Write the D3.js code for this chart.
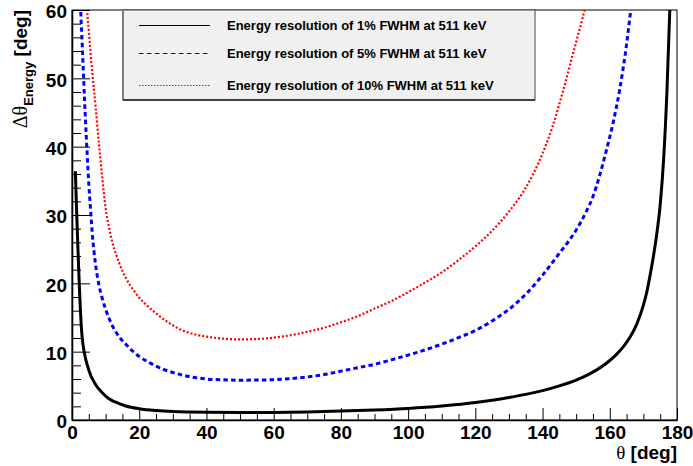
<!DOCTYPE html>
<html>
<head>
<meta charset="utf-8">
<script src="https://cdn.jsdelivr.net/npm/d3@7"></script>
<style>
  html, body { margin: 0; padding: 0; background: #fff; }
  svg { display: block; }
</style>
</head>
<body>
<svg id="chart" width="693" height="466"></svg>
<script>
// ---- data ----
const thetaBlack = [1,3,5,7,9,11,13,16,20,25,30,35,40,50,60,70,80,90,100,110,120,125,130,135,140,145,150,153,156,159,162,164,166,168,170,171,172,173,174,175,176,177,178];
const res1 = [36.4,12.2,7.3,5.2,4.0,3.1,2.6,2.05,1.65,1.38,1.23,1.16,1.12,1.09,1.11,1.18,1.3,1.47,1.7,2.05,2.55,2.9,3.3,3.75,4.3,5.0,5.85,6.5,7.3,8.3,9.6,10.7,12.1,14.0,16.8,18.7,21.2,24,27.3,31.5,38,48,62];

const thetaBlue = [2,2.5,3,3.5,4,4.5,5,5.5,6,7,8,9,10,11,12,14,16,18,20,23,26,30,35,40,45,50,55,60,65,70,75,80,85,90,95,100,105,110,115,120,125,130,135,140,145,150,153,155,157,159,161,163,165,166,167];
const res5 = [80,62,55.5,49.5,44,39,34.5,31,27.5,22.8,19.8,17.8,16.2,14.9,13.8,12.2,11.1,10.1,9.3,8.4,7.65,6.95,6.35,6.0,5.88,5.83,5.85,5.9,6.05,6.3,6.65,7.15,7.65,8.15,8.8,9.5,10.25,11.1,12.05,13.1,14.5,16.2,18.4,21.2,24.4,27.8,30.5,32.7,35.8,39.5,43.5,48.5,55,59,63];

const thetaRed = [4,4.5,5,6,7,8,9,10,11,12,13,14,16,18,20,22,25,28,32,36,40,45,50,55,60,65,70,75,80,85,90,95,100,105,110,115,120,125,130,135,140,143,146,149,152,154];
const res10 = [66,60,57,51,46,40.5,35.5,31,28.2,26,24.4,23,20.8,19.2,17.9,16.9,15.6,14.5,13.3,12.6,12.2,11.9,11.8,11.85,12.05,12.4,12.9,13.5,14.3,15.2,16.3,17.4,18.7,20.1,21.6,23.4,25.4,27.7,30.5,34,39,43,48,53.5,59,63];

const legendLabels = [
  "Energy resolution of 1% FWHM at 511 keV",
  "Energy resolution of 5% FWHM at 511 keV",
  "Energy resolution of 10% FWHM at 511 keV"
];
const xMajorTicks = [0,20,40,60,80,100,120,140,160,180];
const yMajorTicks = [0,10,20,30,40,50,60];

// ---- layout ----
const svg = d3.select("#chart");
const L = 72, R = 677, T = 10, B = 420;
const x = d3.scaleLinear().domain([0, 180]).range([L, R]);
const y = d3.scaleLinear().domain([0, 60]).range([B, T]);
const FONT = "'Liberation Sans', Arial, Helvetica, sans-serif";

// clip
svg.append("defs").append("clipPath").attr("id", "plotclip")
  .append("rect").attr("x", L).attr("y", T).attr("width", R - L).attr("height", B - T);

// frame (top/right)
svg.append("rect").attr("x", L).attr("y", T).attr("width", R - L).attr("height", B - T)
  .attr("fill", "none").attr("stroke", "#000").attr("stroke-width", 1);

// series
const series = [
  { th: thetaBlack, v: res1, color: "#000000", width: 3, dash: null },
  { th: thetaBlue, v: res5, color: "#0000ff", width: 3, dash: "4.5,3.2" },
  { th: thetaRed, v: res10, color: "#ff0000", width: 2.2, dash: "2,2" }
];
const gPlot = svg.append("g").attr("clip-path", "url(#plotclip)");
series.forEach(s => {
  const pts = s.th.map((t, i) => [t, s.v[i]]);
  const line = d3.line().x(d => x(d[0])).y(d => y(d[1])).curve(d3.curveMonotoneX);
  gPlot.append("path").datum(pts)
    .attr("d", line)
    .attr("fill", "none")
    .attr("stroke", s.color)
    .attr("stroke-width", s.width)
    .attr("stroke-dasharray", s.dash)
    .attr("stroke-linejoin", "round");
});

// x axis
const xMinor = d3.range(0, 181, 5).filter(v => v % 20 !== 0);
const gxMinor = svg.append("g").attr("transform", `translate(0,${B})`)
  .call(d3.axisBottom(x).tickValues(xMinor).tickFormat("").tickSizeInner(-6).tickSizeOuter(0));
gxMinor.select(".domain").remove();
const gx = svg.append("g").attr("transform", `translate(0,${B})`)
  .call(d3.axisBottom(x).tickValues(xMajorTicks).tickFormat(d3.format("d")).tickSizeInner(-12).tickSizeOuter(0).tickPadding(6));
gx.select(".domain").attr("stroke-width", 1.6);
gx.selectAll("text").attr("font-family", FONT).attr("font-weight", "bold").attr("font-size", 19).attr("fill", "#000");

// y axis
const yMinor = d3.range(0, 61, 2).filter(v => v % 10 !== 0);
const gyMinor = svg.append("g").attr("transform", `translate(${L},0)`)
  .call(d3.axisLeft(y).tickValues(yMinor).tickFormat("").tickSizeInner(-9).tickSizeOuter(0));
gyMinor.select(".domain").remove();
const gy = svg.append("g").attr("transform", `translate(${L},0)`)
  .call(d3.axisLeft(y).tickValues(yMajorTicks).tickFormat(d3.format("d")).tickSizeInner(-18).tickSizeOuter(0).tickPadding(5));
gy.select(".domain").attr("stroke-width", 1.6);
gy.selectAll("text").attr("font-family", FONT).attr("font-weight", "bold").attr("font-size", 19).attr("fill", "#000").attr("dy", "0.42em");

// axis titles
const xt = svg.append("text").attr("x", R).attr("y", 459).attr("text-anchor", "end").attr("fill", "#000");
xt.append("tspan").attr("font-family", "'Liberation Serif', 'Times New Roman', serif").attr("font-size", 19).text("θ");
xt.append("tspan").attr("font-family", FONT).attr("font-weight", "bold").attr("font-size", 19).text(" [deg]");

const yt = svg.append("text").attr("transform", "translate(27,10) rotate(-90)").attr("text-anchor", "end").attr("fill", "#000");
yt.append("tspan").attr("font-family", "'Liberation Serif', 'Times New Roman', serif").attr("font-size", 20).text("Δθ");
yt.append("tspan").attr("font-family", FONT).attr("font-weight", "bold").attr("font-size", 13).attr("dy", 6).text("Energy");
yt.append("tspan").attr("font-family", FONT).attr("font-weight", "bold").attr("font-size", 19).attr("dy", -6).text(" [deg]");

// legend
const lg = svg.append("g");
const LX0 = 123, LX1 = 535, LY0 = 10, LY1 = 100;
lg.append("rect").attr("x", LX0).attr("y", LY0).attr("width", LX1 - LX0).attr("height", LY1 - LY0)
  .attr("fill", "#f0f0f0").attr("stroke", "#444").attr("stroke-width", 1);
lg.append("line").attr("x1", LX0).attr("x2", LX0).attr("y1", LY0).attr("y2", LY1)
  .attr("stroke", "#808080").attr("stroke-width", 2);
lg.append("line").attr("x1", LX0).attr("x2", LX1).attr("y1", LY1).attr("y2", LY1)
  .attr("stroke", "#222").attr("stroke-width", 1.5);
const rowY = [25.5, 53.5, 85.5];
const legStyle = [
  { color: "#000000", dash: null },
  { color: "#0000ff", dash: "4.5,3.5" },
  { color: "#ff0000", dash: "1.5,1.5" }
];
legendLabels.forEach((lab, i) => {
  lg.append("line").attr("x1", 139).attr("x2", 210).attr("y1", rowY[i]).attr("y2", rowY[i])
    .attr("stroke", legStyle[i].color).attr("stroke-width", 1).attr("stroke-dasharray", legStyle[i].dash);
  lg.append("text").attr("x", 227).attr("y", rowY[i] + 4.2)
    .attr("font-family", FONT).attr("font-weight", "bold").attr("font-size", 13).attr("fill", "#000")
    .text(lab);
});
</script>
</body>
</html>
